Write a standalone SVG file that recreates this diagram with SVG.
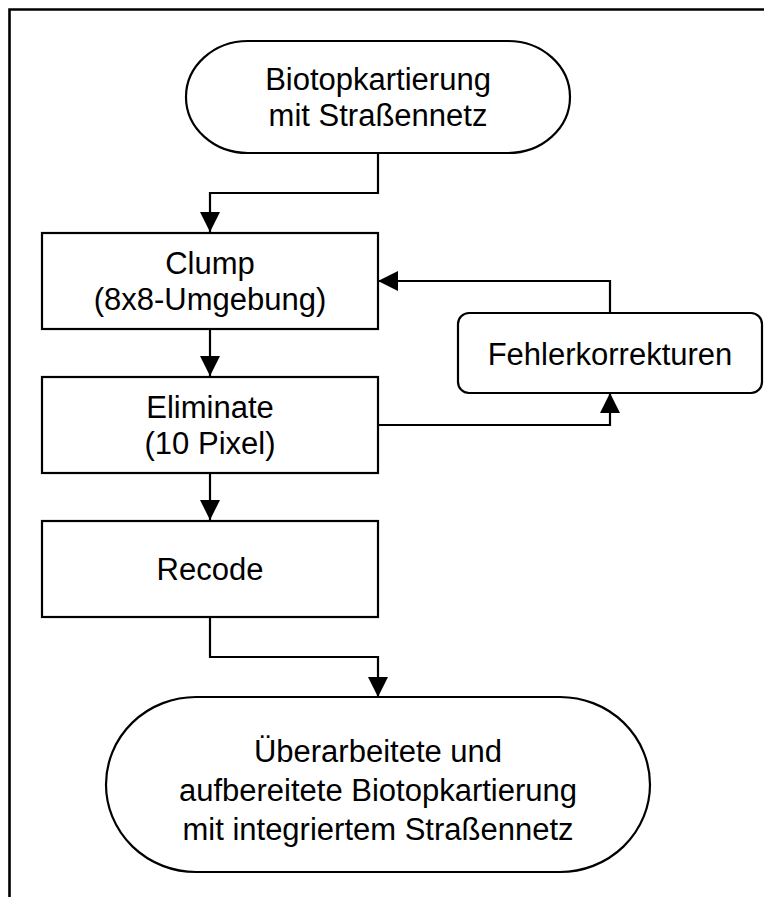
<svg xmlns="http://www.w3.org/2000/svg" width="764" height="897" viewBox="0 0 764 897">
<style>
.shape{fill:#fff;stroke:#000;stroke-width:2.2}
.line{fill:none;stroke:#000;stroke-width:2.2}
.frame{fill:none;stroke:#000;stroke-width:2.6}
text{font-family:"Liberation Sans",Arial,sans-serif;font-size:31px;fill:#000;text-anchor:middle}
</style>
<defs>
<marker id="ah" viewBox="0 0 20 20" refX="20" refY="10" markerWidth="20" markerHeight="20" markerUnits="userSpaceOnUse" orient="auto">
<path d="M0,0 L20,10 L0,20 Z" fill="#000"/>
</marker>
</defs>
<rect width="764" height="897" fill="#fff"/>
<path class="frame" d="M9.5,897 V9.5 H764"/>
<g id="connectors">
<path class="line" d="M378,153 V193 H210 V232" marker-end="url(#ah)"/>
<path class="line" d="M210,329 V376" marker-end="url(#ah)"/>
<path class="line" d="M210,473 V520" marker-end="url(#ah)"/>
<path class="line" d="M378,425 H610 V393" marker-end="url(#ah)"/>
<path class="line" d="M610,313 V281 H378" marker-end="url(#ah)"/>
<path class="line" d="M210,617 V657 H378 V697" marker-end="url(#ah)"/>
</g>
<g id="start">
<rect class="shape" x="186" y="41" width="384" height="112" rx="62" ry="56"/>
<text x="378" y="90">Biotopkartierung</text>
<text x="378" y="126">mit Straßennetz</text>
</g>
<g id="clump">
<rect class="shape" x="42" y="233" width="336" height="96"/>
<text x="210" y="274">Clump</text>
<text x="210" y="310">(8x8-Umgebung)</text>
</g>
<g id="eliminate">
<rect class="shape" x="42" y="377" width="336" height="96"/>
<text x="210" y="418">Eliminate</text>
<text x="210" y="454">(10 Pixel)</text>
</g>
<g id="recode">
<rect class="shape" x="42" y="521" width="336" height="96"/>
<text x="210" y="580">Recode</text>
</g>
<g id="fehler">
<rect class="shape" x="458" y="313" width="304" height="80" rx="11" ry="11"/>
<text x="610" y="365">Fehlerkorrekturen</text>
</g>
<g id="end">
<rect class="shape" x="106" y="697" width="544" height="175" rx="90" ry="87.5"/>
<text x="378" y="762">Überarbeitete und</text>
<text x="378" y="801">aufbereitete Biotopkartierung</text>
<text x="378" y="840">mit integriertem Straßennetz</text>
</g>
</svg>
